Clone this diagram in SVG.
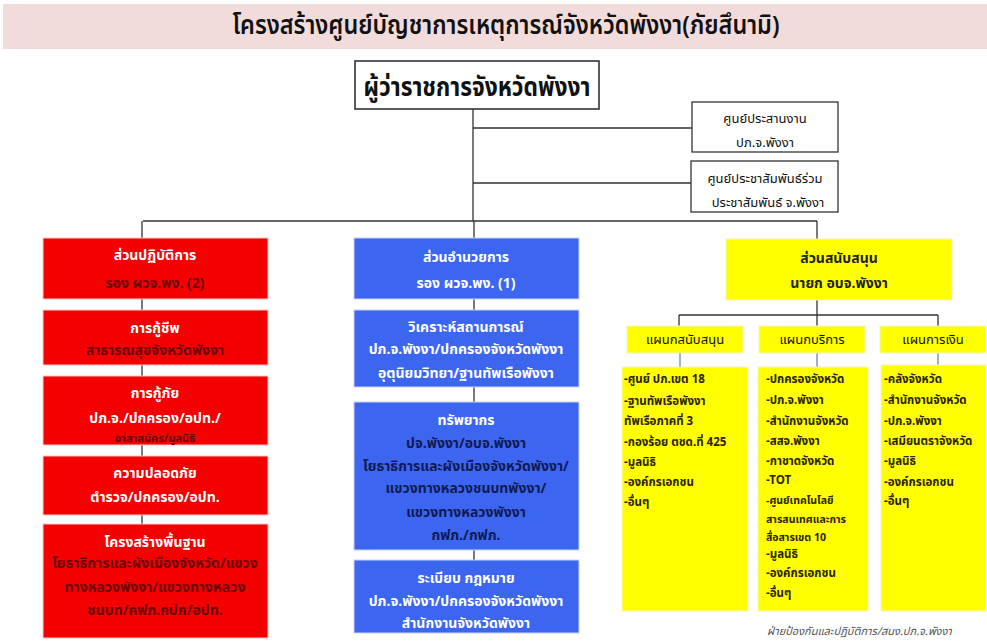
<svg xmlns="http://www.w3.org/2000/svg" width="987" height="641" viewBox="0 0 987 641">
<style>
text{font-family:"Noto Sans Thai","Noto Sans","DejaVu Sans",sans-serif;}
.c{text-anchor:middle;}
.ln{stroke:#333;stroke-width:1.3;fill:none;}
.lb{stroke:#5b7fa8;stroke-width:1.2;fill:none;}
.wb{fill:#fff;stroke:#333;stroke-width:1.3;}
.red{fill:#f40000;stroke:#f8c8c8;stroke-width:1;}
.blue{fill:#3d66f0;stroke:#c8d4f8;stroke-width:1;}
.yel{fill:#ffff00;stroke:#f3f3c0;stroke-width:1;}
.h{font-size:14px;font-weight:bold;fill:#fff;}
.dr{font-size:14px;font-weight:bold;fill:#6a0000;}
.dn{font-size:14px;font-weight:bold;fill:#101a55;}
.k{font-size:13px;fill:#111;}
.ky{font-size:14px;font-weight:bold;fill:#222;}
.d{font-size:11.5px;font-weight:bold;fill:#2a2200;}
</style>
<rect x="3" y="4" width="984" height="45" fill="#f2dcdb"/>
<text x="506" y="34" class="c" style="font-size:26px;font-weight:600;fill:#111;" textLength="547" lengthAdjust="spacingAndGlyphs">โครงสร้างศูนย์บัญชาการเหตุการณ์จังหวัดพังงา(ภัยสึนามิ)</text>

<g id="connectors">
<path class="ln" d="M473 109V221M473 128H692M473 183H691M143 221H817M142 221V238M474 221V238M817 221V239"/>
<path class="ln" d="M142 299V310M142 365V376M142 445V456M142 515V524"/>
<path class="ln" d="M474 299V310M474 387V402M474 550V560"/>
<path class="ln" d="M817 300V315M679 315H938M679 315V326M817 315V326M938 315V326"/>
<path class="lb" d="M680 353V367M817 353V367M938 353V366"/>
</g>

<g id="governor">
<rect class="wb" x="355" y="61" width="244" height="48" style="stroke-width:1.6"/>
<text x="477" y="96" class="c" style="font-size:26px;font-weight:bold;fill:#111;" textLength="227" lengthAdjust="spacingAndGlyphs">ผู้ว่าราชการจังหวัดพังงา</text>
</g>
<g id="coord">
<rect class="wb" x="692" y="102" width="146" height="50"/>
<text x="765" y="123" class="c k">ศูนย์ประสานงาน</text>
<text x="765" y="147" class="c k">ปภ.จ.พังงา</text>
</g>
<g id="pr">
<rect class="wb" x="691" y="161" width="147" height="51"/>
<text x="765" y="183" class="c k">ศูนย์ประชาสัมพันธ์ร่วม</text>
<text x="768" y="207" class="c k">ประชาสัมพันธ์ จ.พังงา</text>
</g>

<g id="ops">
<rect class="red" x="43" y="238" width="225" height="61"/>
<text x="155" y="260" class="c h">ส่วนปฏิบัติการ</text>
<text x="155" y="288" class="c dr">รอง ผวจ.พง. (2)</text>
</g>
<g id="ops1">
<rect class="red" x="43" y="310" width="225" height="55"/>
<text x="155" y="333" class="c h">การกู้ชีพ</text>
<text x="155" y="355" class="c dr">สาธารณสุขจังหวัดพังงา</text>
</g>
<g id="ops2">
<rect class="red" x="43" y="376" width="225" height="69"/>
<text x="155" y="398" class="c h">การกู้ภัย</text>
<text x="155" y="423" class="c h">ปภ.จ./ปกครอง/อปท./</text>
<text x="155" y="442" class="c dr" style="font-size:11px">อาสาสมัคร/มูลนิธิ</text>
</g>
<g id="ops3">
<rect class="red" x="43" y="456" width="225" height="59"/>
<text x="155" y="478" class="c h">ความปลอดภัย</text>
<text x="155" y="502" class="c h">ตำรวจ/ปกครอง/อปท.</text>
</g>
<g id="ops4">
<rect class="red" x="43" y="524" width="225" height="114"/>
<text x="155" y="547" class="c h">โครงสร้างพื้นฐาน</text>
<text x="155" y="568" class="c dr">โยธาธิการและผังเมืองจังหวัด/แขวง</text>
<text x="155" y="592" class="c dr">ทางหลวงพังงา/แขวงทางหลวง</text>
<text x="155" y="615" class="c dr">ชนบท/กฟภ.กปภ/อปท.</text>
</g>

<g id="cmd">
<rect class="blue" x="354" y="238" width="225" height="61"/>
<text x="466" y="262" class="c h">ส่วนอำนวยการ</text>
<text x="466" y="288" class="c h">รอง ผวจ.พง. (1)</text>
</g>
<g id="cmd1">
<rect class="blue" x="354" y="310" width="225" height="77"/>
<text x="466" y="332" class="c h">วิเคราะห์สถานการณ์</text>
<text x="466" y="354" class="c h">ปภ.จ.พังงา/ปกครองจังหวัดพังงา</text>
<text x="466" y="378" class="c h">อุตุนิยมวิทยา/ฐานทัพเรือพังงา</text>
</g>
<g id="cmd2">
<rect class="blue" x="354" y="402" width="225" height="148"/>
<text x="466" y="425" class="c h">ทรัพยากร</text>
<text x="466" y="448" class="c dn">ปจ.พังงา/อบจ.พังงา</text>
<text x="466" y="471" class="c dn">โยธาธิการและผังเมืองจังหวัดพังงา/</text>
<text x="466" y="493" class="c dn">แขวงทางหลวงชนบทพังงา/</text>
<text x="466" y="517" class="c dn">แขวงทางหลวงพังงา</text>
<text x="466" y="540" class="c dn">กฟภ./กฟภ.</text>
</g>
<g id="cmd3">
<rect class="blue" x="354" y="560" width="225" height="73"/>
<text x="466" y="583" class="c h">ระเบียบ กฎหมาย</text>
<text x="466" y="606" class="c h">ปภ.จ.พังงา/ปกครองจังหวัดพังงา</text>
<text x="466" y="628" class="c h">สำนักงานจังหวัดพังงา</text>
</g>

<g id="sup">
<rect class="yel" x="726" y="239" width="226" height="61"/>
<text x="839" y="263" class="c ky">ส่วนสนับสนุน</text>
<text x="839" y="288" class="c ky">นายก อบจ.พังงา</text>
</g>
<g id="sup1">
<rect class="yel" x="627" y="326" width="116" height="27"/>
<text x="685" y="344" class="c k">แผนกสนับสนุน</text>
</g>
<g id="sup2">
<rect class="yel" x="759" y="326" width="106" height="27"/>
<text x="812" y="344" class="c k">แผนกบริการ</text>
</g>
<g id="sup3">
<rect class="yel" x="880" y="326" width="106" height="27"/>
<text x="933" y="344" class="c k">แผนการเงิน</text>
</g>
<g id="sup1d">
<rect class="yel" x="622" y="367" width="126" height="244"/>
<text x="624" y="383" class="d">-ศูนย์ ปภ.เขต 18</text>
<text x="624" y="405" class="d">-ฐานทัพเรือพังงา</text>
<text x="624" y="425" class="d">ทัพเรือภาคที่ 3</text>
<text x="624" y="446" class="d">-กองร้อย ตชด.ที่ 425</text>
<text x="624" y="466" class="d">-มูลนิธิ</text>
<text x="624" y="486" class="d">-องค์กรเอกชน</text>
<text x="624" y="506" class="d">-อื่นๆ</text>
</g>
<g id="sup2d">
<rect class="yel" x="758" y="367" width="110" height="244"/>
<text x="766" y="383" class="d">-ปกครองจังหวัด</text>
<text x="766" y="404" class="d">-ปภ.จ.พังงา</text>
<text x="766" y="425" class="d">-สำนักงานจังหวัด</text>
<text x="766" y="445" class="d">-สสจ.พังงา</text>
<text x="766" y="465" class="d">-กาชาดจังหวัด</text>
<text x="766" y="484" class="d">-TOT</text>
<text x="766" y="504" class="d" style="font-size:10.5px">-ศูนย์เทคโนโลยี</text>
<text x="766" y="523" class="d" style="font-size:10.5px">สารสนเทศและการ</text>
<text x="766" y="541" class="d" style="font-size:10.5px">สื่อสารเขต 10</text>
<text x="766" y="558" class="d">-มูลนิธิ</text>
<text x="766" y="577" class="d">-องค์กรเอกชน</text>
<text x="766" y="597" class="d">-อื่นๆ</text>
</g>
<g id="sup3d">
<rect class="yel" x="881" y="365" width="105" height="246"/>
<text x="884" y="383" class="d">-คลังจังหวัด</text>
<text x="884" y="404" class="d">-สำนักงานจังหวัด</text>
<text x="884" y="425" class="d">-ปภ.จ.พังงา</text>
<text x="884" y="445" class="d">-เสมียนตราจังหวัด</text>
<text x="884" y="465" class="d">-มูลนิธิ</text>
<text x="884" y="486" class="d">-องค์กรเอกชน</text>
<text x="884" y="505" class="d">-อื่นๆ</text>
</g>
<text x="767" y="635" style="font-size:11px;font-style:italic;fill:#555;">ฝ่ายป้องกันและปฏิบัติการ/สนง.ปภ.จ.พังงา</text>
</svg>
